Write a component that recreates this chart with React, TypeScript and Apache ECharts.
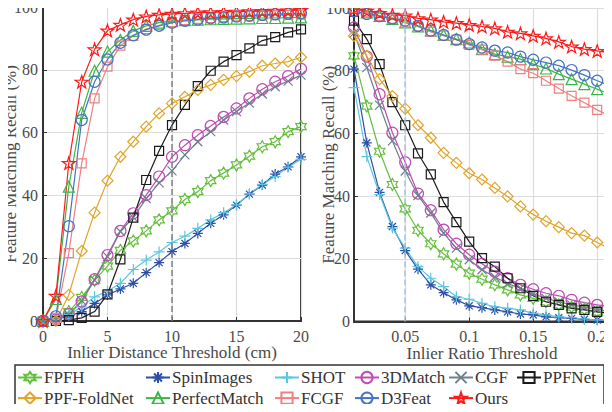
import React, { useEffect, useRef } from 'react';
import * as echarts from 'echarts';

// ---------- data ----------
const distX = [0, 1, 2, 3, 4, 5, 6, 7, 8, 9, 10, 11, 12, 13, 14, 15, 16, 17, 18, 19, 20];
const ratioX = [0.01, 0.02, 0.03, 0.04, 0.05, 0.06, 0.07, 0.08, 0.09, 0.1, 0.11, 0.12, 0.13, 0.14, 0.15, 0.16, 0.17, 0.18, 0.19, 0.2, 0.21];

const methodNames = ['FPFH', 'SpinImages', 'SHOT', '3DMatch', 'CGF', 'PPFNet', 'PPF-FoldNet', 'PerfectMatch', 'FCGF', 'D3Feat', 'Ours'];

// Left: recall vs inlier distance threshold
const fpfhDist = [0, 0.5, 3, 7.5, 13, 17.5, 22.5, 25.5, 28.7, 32.2, 35.1, 38.7, 41.2, 44.7, 47.1, 49.7, 52.5, 55.5, 57.1, 60.3, 61.9];
const spinDist = [0, 0.5, 1.5, 3, 5.6, 8.3, 10.2, 12, 15.4, 18.6, 22.1, 24.7, 27.9, 31.1, 33.8, 36.9, 40.4, 43.3, 46.8, 49.1, 52.3];
const shotDist = [0, 0.5, 2, 4.5, 7.7, 9.5, 12, 16.4, 19.4, 22, 25, 27, 29.5, 32.2, 34.5, 37, 40.5, 43.5, 46, 49, 51.5];
const match3dDist = [0, 0.5, 2.2, 6.2, 13.3, 21, 28.7, 34.3, 40.1, 46, 52.3, 56, 59.2, 62.1, 65, 67.7, 70.9, 73.8, 76.2, 78, 80.3];
const cgfDist = [0, 0.5, 2, 6.5, 13, 20.5, 28.5, 33, 39, 44, 47.8, 52.9, 57.1, 60.3, 64, 66.7, 69.4, 72.3, 74.6, 76.4, 78.3];
const ppfnetDist = [0, 0, 0.3, 1, 3, 8.5, 19.6, 32.9, 44.9, 54.2, 62.4, 68.8, 74.8, 79.7, 82.6, 84.7, 86.8, 89.3, 90.4, 91.9, 92.9];
const foldnetDist = [0, 0, 8.3, 22.3, 34.5, 44.7, 52.3, 57.1, 61.9, 66.1, 69.3, 71.4, 73.6, 75.2, 76.8, 78, 79.4, 81.3, 82, 82.6, 84];
const perfectDist = [0, 7, 42.8, 66.3, 79.7, 85.8, 89.5, 92.4, 94, 95, 95.5, 95.8, 96, 96.1, 96.2, 96.3, 96.4, 96.5, 96.5, 96.6, 96.7];
const fcgfDist = [0, 1, 21.6, 50.2, 70.9, 81, 87.7, 90.8, 93, 94.2, 95.2, 95.8, 96.2, 96.5, 96.8, 97, 97.1, 97.3, 97.4, 97.5, 97.6];
const d3featDist = [0, 1.5, 30.2, 64, 76.2, 83.3, 88.6, 91, 92.8, 94, 95, 95.6, 96, 96.4, 96.7, 97, 97.2, 97.5, 97.7, 97.9, 98];
const oursDist = [0, 8, 50.3, 76.2, 86.5, 92.5, 94.3, 96, 97, 97.5, 97.8, 98, 98.2, 98.3, 98.4, 98.5, 98.6, 98.7, 98.8, 98.9, 99];

// Right: recall vs inlier ratio threshold
const fpfhRatio = [84.7, 68.7, 54.3, 43.7, 35.9, 29.1, 24.8, 21.6, 18.3, 15.4, 13.5, 11.7, 10.1, 8.5, 7.4, 6.3, 5.3, 4.6, 3.9, 3.1, 2.8];
const spinRatio = [80.5, 57, 41.2, 30.3, 22.6, 16.7, 11.7, 9.2, 6.9, 5, 4.4, 3.7, 3.1, 2.4, 2.1, 1.5, 1.2, 1, 0.7, 0.5, 0.3];
const shotRatio = [74.6, 52.6, 40.5, 29.8, 23.4, 17.5, 13.8, 11.1, 7.9, 7.1, 5.8, 4.7, 4.2, 3.7, 2.6, 2.1, 1.5, 1.2, 0.8, 0.5, 0.3];
const match3dRatio = [93.8, 84.5, 72.5, 60.2, 50.8, 40.8, 35.5, 29.3, 24.8, 21.3, 18.4, 15.9, 13.8, 11.7, 10.3, 9, 8.2, 6.9, 6, 5.3, 4.7];
const cgfRatio = [92, 81, 69, 57.6, 48, 40.2, 34.6, 28.2, 23.4, 19.7, 16.5, 14.2, 12.1, 10.6, 8.8, 7.4, 6.3, 5.3, 4.6, 3.9, 3.1];
const ppfnetRatio = [96, 90.1, 82.1, 70, 62.6, 53.6, 46.9, 38.1, 31.7, 25.5, 20.2, 17.5, 13.8, 10.6, 8.2, 6.3, 5.3, 4.2, 3.7, 3.1, 2.6];
const foldnetRatio = [91.1, 84.7, 77.3, 71.9, 67.9, 62.6, 58.6, 53.8, 50.6, 47.3, 45.3, 42.6, 39.9, 36.7, 34.1, 32, 30.1, 28.2, 27.4, 25.2, 23.1];
const perfectRatio = [100, 98.6, 97.5, 96.5, 95.4, 94.1, 92.8, 91.4, 90.1, 89, 86.9, 85.3, 84.5, 83.7, 82.1, 80.7, 78.9, 77.3, 75.7, 74.1, 72.5];
const fcgfRatio = [99.7, 98.6, 97.5, 96.5, 95.4, 94.1, 92.4, 91.2, 89.9, 88.2, 86.7, 84.8, 82.9, 80.5, 79.2, 76.8, 74.3, 72, 69.8, 67.5, 65.5];
const d3featRatio = [99, 98.1, 97.4, 96.7, 96, 94.3, 92.8, 91.4, 89.9, 88.5, 87.4, 86.4, 85.8, 84.5, 83.5, 82.6, 81.6, 80.2, 78.6, 76.8, 75.2];
const oursRatio = [99.7, 99.1, 98.4, 97.8, 97.6, 96.7, 96.3, 95.6, 95.2, 94.6, 94.1, 93.5, 92.4, 91.9, 91.1, 90.3, 89.2, 87.7, 86.9, 86.3, 85.8];

const distSeries = [fpfhDist, spinDist, shotDist, match3dDist, cgfDist, ppfnetDist, foldnetDist, perfectDist, fcgfDist, d3featDist, oursDist];
const ratioSeries = [fpfhRatio, spinRatio, shotRatio, match3dRatio, cgfRatio, ppfnetRatio, foldnetRatio, perfectRatio, fcgfRatio, d3featRatio, oursRatio];

const ratioTicks = [0.05, 0.1, 0.15, 0.2];

// ---------- styles ----------
const colors = ['#62bf3a', '#2d4fa8', '#5cc6df', '#c04bb5', '#6e7f8d', '#1a1a1a', '#e0a526', '#3cb44b', '#f07f7f', '#4472c4', '#ff1a1a'];

function starPoly(n: number, rOut: number, rIn: number) {
  const pts: string[] = [];
  for (let i = 0; i < n * 2; i++) {
    const a = (-90 + (180 / n) * i) * Math.PI / 180;
    const r = i % 2 === 0 ? rOut : rIn;
    pts.push((10 + r * Math.cos(a)).toFixed(2) + ' ' + (10 + r * Math.sin(a)).toFixed(2));
  }
  return 'path://M' + pts.join('L') + 'Z';
}
const pentagram = starPoly(5, 10, 3.9);
const hexagram = starPoly(6, 10, 5.77);
const asterisk = 'path://M10 0L10 20M0 10L20 10M2.93 2.93L17.07 17.07M17.07 2.93L2.93 17.07';
const plus = 'path://M10 0L10 20M0 10L20 10';
const cross = 'path://M0 0L20 20M20 0L0 20';

const symbols = [hexagram, asterisk, plus, 'circle', cross, 'rect', 'diamond', 'triangle', 'rect', 'circle', pentagram];
const symbolSizes = [12, 10, 11, 11, 9, 9, 11, 11, 9, 11, 13];

const FONT = "'Liberation Serif', 'Times New Roman', serif";
const TEXT = '#4a4a4a';
const DARK = '#333';

export default function App() {
  const ref = useRef<HTMLDivElement>(null);
  useEffect(() => {
    if (!ref.current) return;
    const chart = echarts.init(ref.current, undefined, { renderer: 'svg' });

    const axisCommon = {
      axisLine: { show: true, lineStyle: { color: DARK, width: 2 } },
      axisTick: { show: true, inside: true, length: 4, lineStyle: { color: DARK } },
      axisLabel: { color: TEXT, fontFamily: FONT, fontSize: 16 },
      splitLine: { show: true, lineStyle: { color: '#dcdcdc', width: 1.2 } },
      nameTextStyle: { color: TEXT, fontFamily: FONT, fontSize: 17 },
      nameLocation: 'middle' as const,
      nameMoveOverlap: false,
    };

    const series: any[] = [];
    [distSeries, ratioSeries].forEach((group, g) => {
      const xs = g === 0 ? distX : ratioX;
      group.forEach((vals, i) => {
        const s: any = {
          name: methodNames[i],
          type: 'line',
          xAxisIndex: g,
          yAxisIndex: g,
          data: xs.map((x, k) => [x, vals[k]]),
          symbol: symbols[i],
          symbolSize: symbolSizes[i],
          symbolKeepAspect: true,
          clip: false,
          lineStyle: { color: colors[i], width: 1.2 },
          itemStyle: { color: 'transparent', borderColor: colors[i], borderWidth: 1.2 },
          emphasis: { disabled: true },
        };
        if (i === 0) {
          s.markLine = {
            silent: true,
            symbol: ['none', 'none'],
            label: { show: false },
            lineStyle: { type: 'dashed', color: g === 0 ? '#808080' : '#a9c2d8', width: 1.5 },
            data: [{ xAxis: g === 0 ? 10 : 0.05 }],
          };
        }
        series.push(s);
      });
    });

    const legendCols = [
      { left: 17, data: ['FPFH', 'PPF-FoldNet'] },
      { left: 145, data: ['SpinImages', 'PerfectMatch'] },
      { left: 274, data: ['SHOT', 'FCGF'] },
      { left: 354, data: ['3DMatch', 'D3Feat'] },
      { left: 448, data: ['CGF', 'Ours'] },
      { left: 516, data: ['PPFNet'] },
    ];

    chart.setOption({
      animation: false,
      backgroundColor: '#fff',
      grid: [
        { left: 43, right: 311, top: 7, bottom: 91, show: true, borderColor: DARK, borderWidth: 2, outerBoundsMode: 'none', containLabel: false },
        { left: 354, right: 2, top: 8, bottom: 90.5, show: true, borderColor: DARK, borderWidth: 2, outerBoundsMode: 'none', containLabel: false },
      ],
      xAxis: [
        {
          ...axisCommon, type: 'value', gridIndex: 0, min: 0, max: 20, interval: 5,
          name: 'Inlier Distance Threshold (cm)', nameGap: 23,
          axisLabel: { ...axisCommon.axisLabel, margin: 7 },
        },
        {
          ...axisCommon, type: 'value', gridIndex: 1, min: 0.01, max: 0.21,
          name: 'Inlier Ratio Threshold', nameGap: 23,
          axisTick: { ...axisCommon.axisTick, customValues: ratioTicks },
          axisLabel: { ...axisCommon.axisLabel, margin: 7, customValues: ratioTicks, formatter: (v: number) => String(+v.toFixed(2)) },
        },
      ],
      yAxis: [
        {
          ...axisCommon, type: 'value', gridIndex: 0, min: 0, max: 100, interval: 20,
          name: 'Feature Matching Recall (%)', nameGap: 24,
          axisLabel: { ...axisCommon.axisLabel, margin: 5 },
        },
        {
          ...axisCommon, type: 'value', gridIndex: 1, min: 0, max: 100, interval: 20,
          name: 'Feature Matching Recall (%)', nameGap: 17,
          axisLabel: { ...axisCommon.axisLabel, margin: 4 },
        },
      ],
      legend: legendCols.map((c) => ({
        orient: 'vertical',
        left: c.left,
        top: 368.5,
        data: c.data,
        itemGap: 2.6,
        itemWidth: 24,
        itemHeight: 14,
        selectedMode: false,
        textStyle: { color: DARK, fontFamily: FONT, fontSize: 17, lineHeight: 18, padding: [0, 0, 0, -3] },
        padding: 0,
      })),
      graphic: [
        {
          type: 'rect',
          shape: { x: 15, y: 365, width: 589, height: 45 },
          style: { fill: 'none', stroke: DARK, lineWidth: 1.5 },
          silent: true,
        },
      ],
      series,
    });

    return () => chart.dispose();
  }, []);

  return <div ref={ref} style={{ width: 612, height: 412, margin: -8 }} />;
}
